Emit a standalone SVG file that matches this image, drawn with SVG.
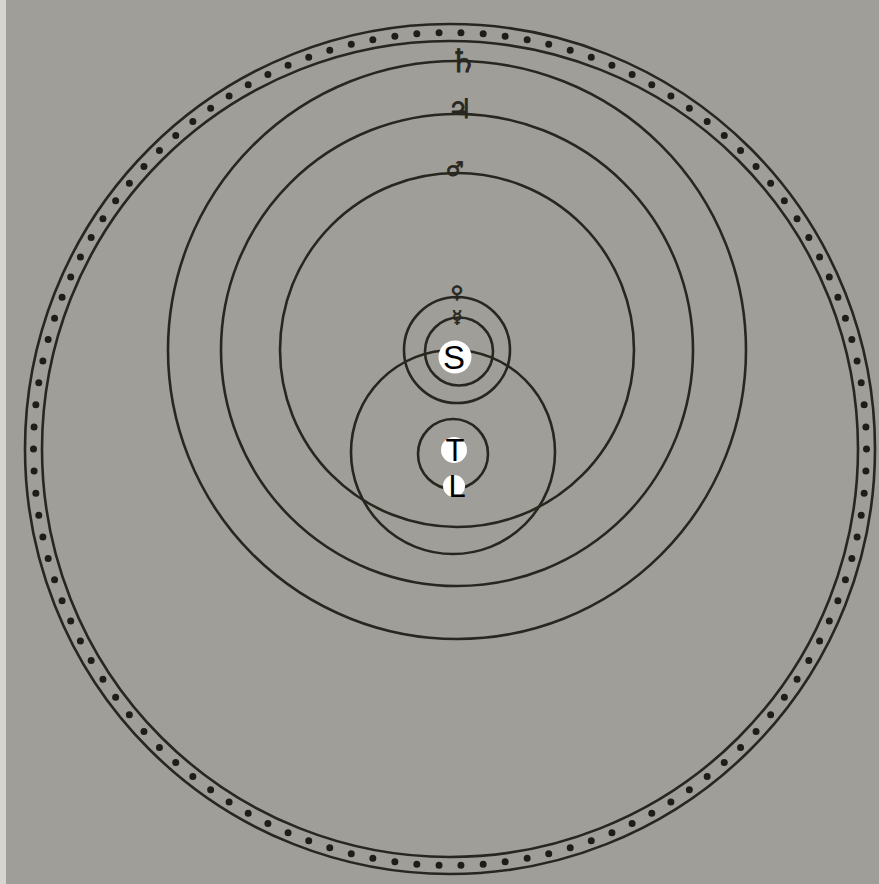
<svg xmlns="http://www.w3.org/2000/svg" width="879" height="884" viewBox="0 0 879 884">
  <style>
    .orb { fill: none; stroke: #28271f; stroke-width: 2.6; }
    .sym { font-family: "DejaVu Sans", sans-serif; fill: #28271f; stroke: #28271f; stroke-width: 0.8; text-anchor: middle; }
    .lbl { font-family: "Liberation Sans", "Open Sans", sans-serif; fill: #000; text-anchor: middle; }
    .disc { fill: #ffffff; }
  </style>
  <rect x="0" y="0" width="879" height="884" fill="#a09e98"/>
  <rect x="0" y="0" width="6" height="884" fill="#d6d5d0"/>

  <g id="fixed-stars">
    <circle class="orb" cx="450" cy="449" r="425"/>
    <circle class="orb" cx="450" cy="449" r="408"/>
    <circle cx="450" cy="449" r="416.5" fill="none" stroke="#1e1d18" stroke-width="7" stroke-linecap="round" pathLength="118" stroke-dasharray="0 1"/>
  </g>

  <g id="saturn">
    <circle class="orb" cx="457" cy="350" r="289"/>
    <text class="sym" x="463" y="72" font-size="32">♄</text>
  </g>
  <g id="jupiter">
    <circle class="orb" cx="457" cy="350" r="236"/>
    <text class="sym" x="460" y="118" font-size="27">♃</text>
  </g>
  <g id="mars">
    <circle class="orb" cx="457" cy="350" r="177"/>
    <text class="sym" x="455" y="176" font-size="20">♂</text>
  </g>
  <g id="sun-orbit">
    <circle class="orb" cx="453" cy="452" r="102"/>
  </g>
  <g id="venus">
    <circle class="orb" cx="457" cy="350" r="53"/>
    <text class="sym" x="457" y="298" font-size="17">♀</text>
  </g>
  <g id="mercury">
    <circle class="orb" cx="459" cy="351.5" r="34"/>
    <text class="sym" x="457" y="323" font-size="17">☿</text>
  </g>
  <g id="moon-orbit">
    <circle class="orb" cx="453" cy="454" r="35"/>
  </g>

  <g id="sun">
    <circle class="disc" cx="455" cy="357" r="16.5"/>
    <text class="lbl" x="454" y="369" font-size="33">S</text>
  </g>
  <g id="earth">
    <circle class="disc" cx="454" cy="450" r="13"/>
    <text class="lbl" x="455" y="461" font-size="31">T</text>
  </g>
  <g id="moon">
    <circle class="disc" cx="454" cy="486" r="11"/>
    <text class="lbl" x="457" y="497" font-size="31">L</text>
  </g>
</svg>
